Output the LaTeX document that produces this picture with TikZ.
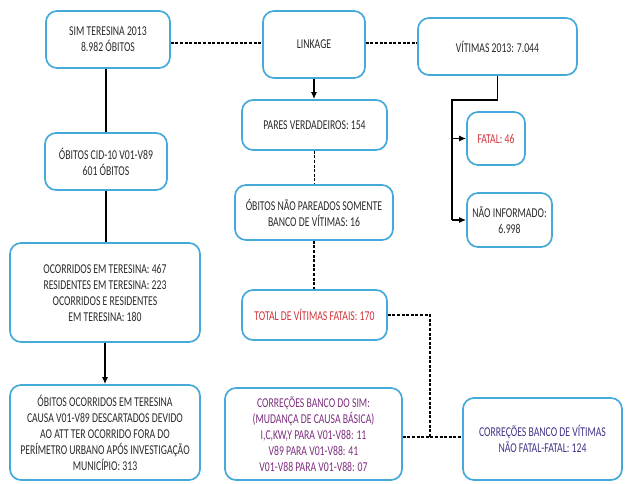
\documentclass[tikz,border=0pt]{standalone}
\usepackage{fontspec}
\setmainfont{Carlito}[FakeStretch=0.72]
\usetikzlibrary{arrows.meta}
\definecolor{boxblue}{HTML}{45A9DA}
\definecolor{txtgray}{HTML}{2A2A2A}
\definecolor{txtred}{HTML}{D0343A}
\definecolor{txtpurple}{HTML}{7E2E80}
\definecolor{txtindigo}{HTML}{3E3488}
\tikzset{
  flowbox/.style={draw=boxblue, line width=1.7pt, rounded corners=11pt,
    align=center, inner sep=0pt, text=txtgray,
    font=\fontsize{13.5}{16}\selectfont},
  solidlink/.style={draw=black, line width=1.7pt},
  dashlink/.style={draw=black, line width=1.5pt, dash pattern=on 3pt off 1.6pt},
  arrowlink/.style={solidlink, -{Latex[length=7pt,width=6pt]}}
}
\begin{document}
\begin{tikzpicture}[x=1pt,y=-1pt]
\useasboundingbox (0,0) rectangle (625,483);

% top row
\node[flowbox, minimum width=124pt, minimum height=57pt] (sim) at (108,39.5)
  {SIM TERESINA 2013\\8.982 ÓBITOS};
\node[flowbox, minimum width=102pt, minimum height=67pt] (link) at (314,44.5)
  {LINKAGE};
\node[flowbox, minimum width=159pt, minimum height=57pt] (vit) at (497.5,46.5)
  {VÍTIMAS 2013: 7.044};

% left column
\node[flowbox, minimum width=122pt, minimum height=57pt] (cid) at (106,161.5)
  {ÓBITOS CID-10 V01-V89\\601 ÓBITOS};
\node[flowbox, minimum width=190pt, minimum height=99pt] (ocor) at (105,292.5)
  {OCORRIDOS EM TERESINA: 467\\RESIDENTES EM TERESINA: 223\\OCORRIDOS E RESIDENTES\\EM TERESINA: 180};
\node[flowbox, minimum width=190pt, minimum height=95pt] (desc) at (105,432.5)
  {ÓBITOS OCORRIDOS EM TERESINA\\CAUSA V01-V89 DESCARTADOS DEVIDO\\AO ATT TER OCORRIDO FORA DO\\PERÍMETRO URBANO APÓS INVESTIGAÇÃO\\MUNICÍPIO: 313};

% middle column
\node[flowbox, minimum width=145pt, minimum height=50pt] (pares) at (314.5,125)
  {PARES VERDADEIROS: 154};
\node[flowbox, minimum width=158pt, minimum height=55pt] (naopar) at (314,212.5)
  {ÓBITOS NÃO PAREADOS SOMENTE\\BANCO DE VÍTIMAS: 16};
\node[flowbox, minimum width=145pt, minimum height=50pt, text=txtred] (total) at (314.5,315)
  {TOTAL DE VÍTIMAS FATAIS: 170};
\node[flowbox, minimum width=177pt, minimum height=92pt, text=txtpurple] (corsim) at (313.5,434)
  {CORREÇÕES BANCO DO SIM:\\(MUDANÇA DE CAUSA BÁSICA)\\I,C,KW,Y PARA V01-V88: 11\\V89 PARA V01-V88: 41\\V01-V88 PARA V01-V88: 07};

% right column
\node[flowbox, minimum width=58pt, minimum height=53pt, text=txtred] (fatal) at (496,138.5)
  {FATAL: 46};
\node[flowbox, minimum width=85pt, minimum height=54pt] (naoinf) at (509.5,220)
  {NÃO INFORMADO:\\6.998};
\node[flowbox, minimum width=159pt, minimum height=82pt, text=txtindigo] (corvit) at (542.5,439)
  {CORREÇÕES BANCO DE VÍTIMAS\\NÃO FATAL-FATAL: 124};

% junction points
\coordinate (vbend) at (452,100);
\coordinate (tbend) at (430,315);
\coordinate (cbend) at (430,437);

% connectors
\draw[dashlink] (sim.east |- 0,43) -- (link.west |- 0,43);
\draw[dashlink] (link.east |- 0,43) -- (vit.west |- 0,43);
\draw[solidlink] (cid.north) -- (cid.north |- sim.south);
\draw[solidlink] (cid.south) -- (cid.south |- ocor.north);
\draw[arrowlink] (ocor.south) -- (ocor.south |- desc.north);
\draw[arrowlink] (link.south) -- (link.south |- pares.north);
\draw[dashlink] (pares.south) -- (pares.south |- naopar.north);
\draw[dashlink] (naopar.south) -- (naopar.south |- total.north);
\draw[dashlink] (total.east) -- (tbend) -- (cbend);
\draw[dashlink] (corsim.east |- cbend) -- (corvit.west |- cbend);
\draw[solidlink, line join=miter] (vit.south) |- (vbend) -- (vbend |- naoinf.west);
\draw[arrowlink] (vbend |- naoinf.west) -- (naoinf.west);
\draw[arrowlink] (vbend |- fatal.west) -- (fatal.west);
\end{tikzpicture}
\end{document}
